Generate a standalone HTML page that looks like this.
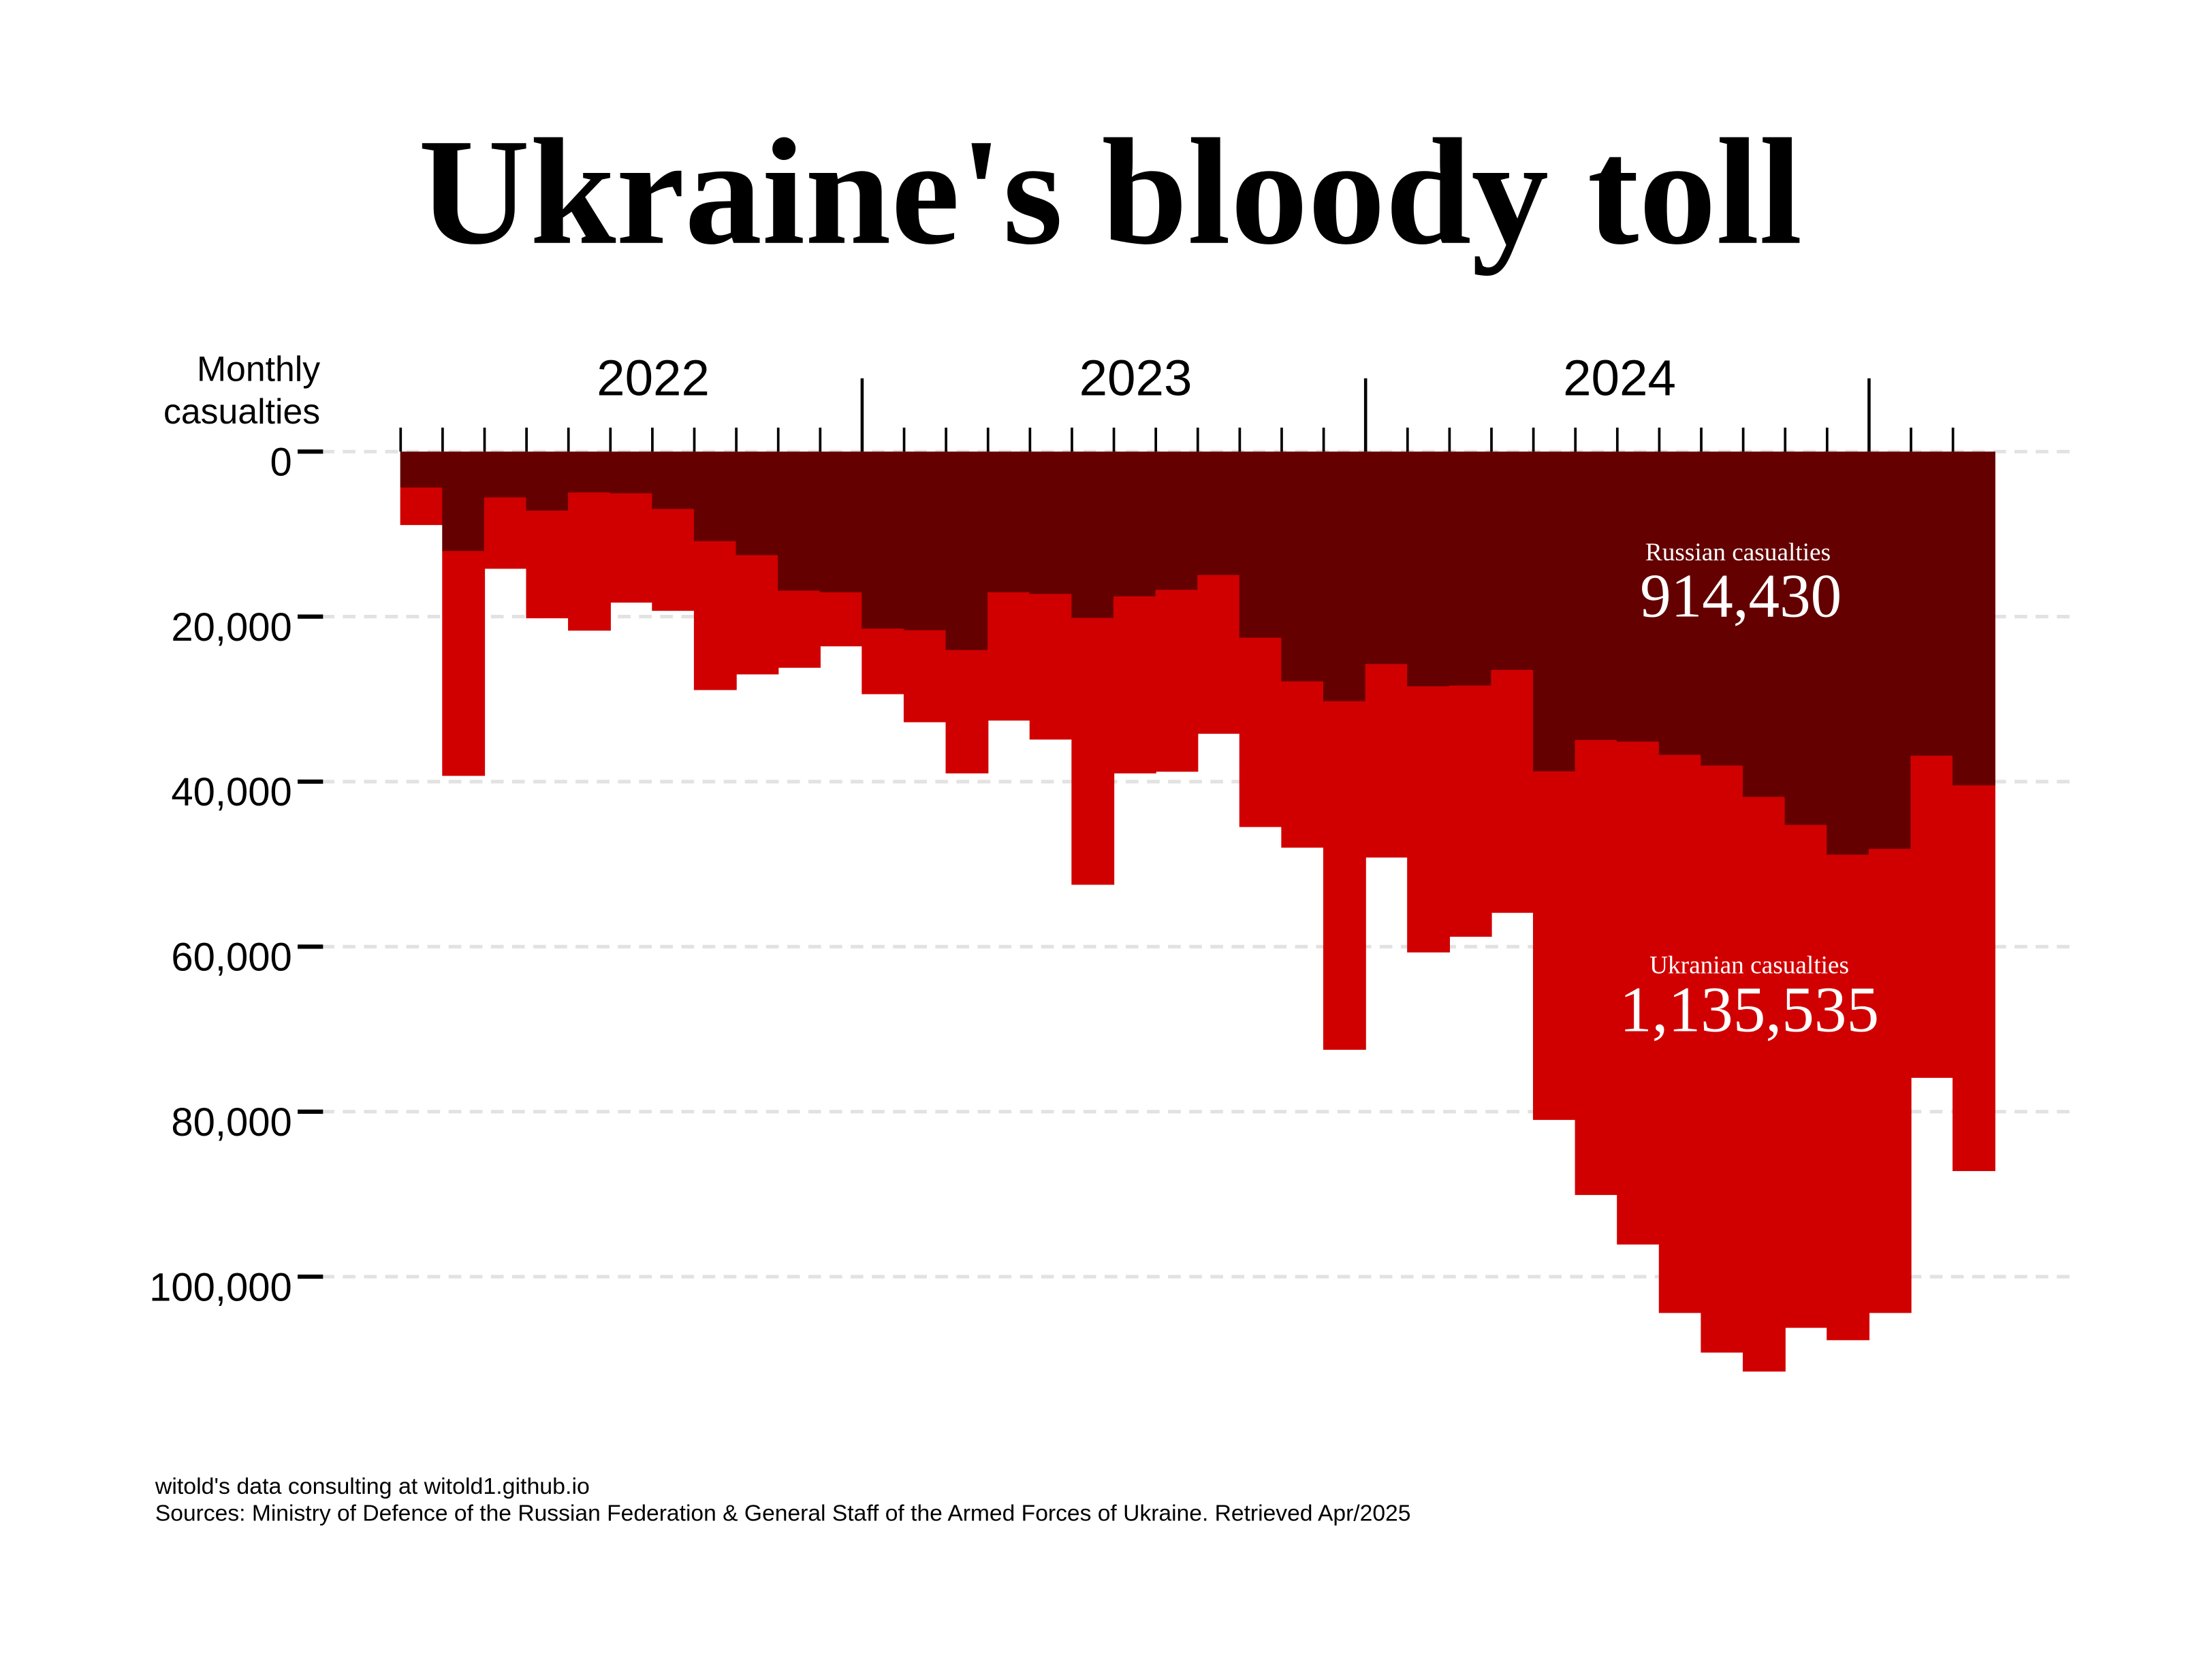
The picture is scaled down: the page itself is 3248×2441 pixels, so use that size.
<!DOCTYPE html>
<html><head><meta charset="utf-8"><style>
html,body{margin:0;padding:0;background:#fff}
svg{display:block}
</style></head><body>
<svg id="chart" width="3248" height="2441" viewBox="0 0 1568 1178" xmlns="http://www.w3.org/2000/svg">
<rect width="1568" height="1178" fill="#fff"/>
<text x="787" y="172" text-anchor="middle" font-family="Liberation Serif, serif" font-weight="bold" font-size="108" textLength="981" lengthAdjust="spacingAndGlyphs">Ukraine's bloody toll</text>
<g id="grid"></g>
<g id="bars"></g>
<g id="axes"></g>
<text x="227" y="270" text-anchor="end" font-family="Liberation Sans, sans-serif" font-size="25">Monthly</text>
<text x="227" y="300" text-anchor="end" font-family="Liberation Sans, sans-serif" font-size="25">casualties</text>
<text x="1232" y="397" text-anchor="middle" font-family="Liberation Serif, serif" font-size="18" fill="#fff">Russian casualties</text>
<text x="1234" y="437" text-anchor="middle" font-family="Liberation Serif, serif" font-size="44" fill="#fff">914,430</text>
<text x="1240" y="690" text-anchor="middle" font-family="Liberation Serif, serif" font-size="18" fill="#fff">Ukranian casualties</text>
<text x="1240" y="731" text-anchor="middle" font-family="Liberation Serif, serif" font-size="46" fill="#fff">1,135,535</text>
<text x="110" y="1059" font-family="Liberation Sans, sans-serif" font-size="16" textLength="308" lengthAdjust="spacingAndGlyphs">witold's data consulting at witold1.github.io</text>
<text x="110" y="1078" font-family="Liberation Sans, sans-serif" font-size="16" textLength="890" lengthAdjust="spacingAndGlyphs">Sources: Ministry of Defence of the Russian Federation &amp; General Staff of the Armed Forces of Ukraine. Retrieved Apr/2025</text>
</svg>
<script>
const months = ["2022-02","2022-03","2022-04","2022-05","2022-06","2022-07","2022-08","2022-09","2022-10","2022-11","2022-12","2023-01","2023-02","2023-03","2023-04","2023-05","2023-06","2023-07","2023-08","2023-09","2023-10","2023-11","2023-12","2024-01","2024-02","2024-03","2024-04","2024-05","2024-06","2024-07","2024-08","2024-09","2024-10","2024-11","2024-12","2025-01","2025-02","2025-03"];
const russian = [4400,12100,5600,7200,5000,5100,7000,10900,12600,16900,17100,21500,21700,24100,17100,17300,20200,17600,16800,15000,22600,27900,30300,25800,28500,28400,26500,38800,35000,35200,36800,38100,41900,45300,48900,48200,36900,40500];
const ukrainian = [4500,27200,8600,13000,16700,13200,12300,18000,14400,9300,6500,7900,11100,14900,15500,17600,32300,21400,22000,19200,22900,20100,42200,23400,32200,30400,29400,42200,55100,60900,67600,71100,69600,60900,58800,56200,39000,46700];
const yTicks = [0,20000,40000,60000,80000,100000];
const yTickLabels = ["0","20,000","40,000","60,000","80,000","100,000"];
const years = ["2022","2023","2024"];

const NS = "http://www.w3.org/2000/svg";
const x0 = 284, mw = 29.74, y0 = 320, pxPer = 117/20000;
const yearLabelX = [463, 805, 1148];
const xScale = i => x0 + i*mw;
const yScale = v => y0 + v*pxPer;
function mk(tag, attrs, parent){ const e=document.createElementNS(NS,tag); for(const k in attrs) e.setAttribute(k,attrs[k]); parent.appendChild(e); return e; }
const grid=document.getElementById('grid'), bars=document.getElementById('bars'), axes=document.getElementById('axes');

yTicks.forEach((v,i)=>{
  const y=yScale(v);
  const g=mk('line',{x1:228,x2:1470,y1:y,y2:y,stroke:'#e2e2e2','stroke-width':2.5,'stroke-dasharray':'9 6'},grid);
  
  
  const t=mk('line',{x1:211,x2:229,y1:y,y2:y,stroke:'#000','stroke-width':3},axes);
  
  
  const l=mk('text',{x:207,y:y+17,'text-anchor':'end','font-family':'Liberation Sans, sans-serif','font-size':28},axes);
  l.textContent=yTickLabels[i];
  
  
});

months.forEach((m,i)=>{
  const x=xScale(i), r=russian[i], t=r+ukrainian[i];
  const d=mk('rect',{x:x-0.3,y:y0,width:mw+0.6,height:yScale(r)-y0,fill:'#640000'},bars);
  
  
  const u=mk('rect',{x:x-0.3,y:yScale(r)-0.3,width:mw+0.6,height:yScale(t)-yScale(r)+0.3,fill:'#d10000'},bars);
  
  
  const isYear = m.endsWith('-01');
  const tk=mk('line',{x1:x,x2:x,y1:isYear?268:303,y2:y0,stroke:'#000','stroke-width':isYear?2.2:1.8},axes);
  
  
});
years.forEach((yr,i)=>{
  const l=mk('text',{x:yearLabelX[i],y:280,'text-anchor':'middle','font-family':'Liberation Sans, sans-serif','font-size':36},axes);
  l.textContent=yr;
  
  
});
</script>
</body></html>
